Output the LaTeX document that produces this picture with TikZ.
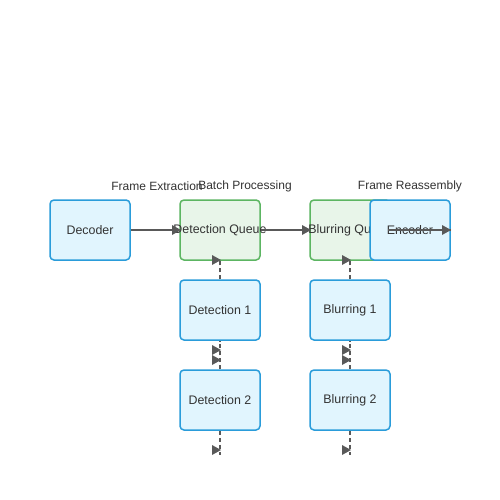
\documentclass[tikz,border=0pt]{standalone}
\usepackage{fontspec}
\setmainfont{Liberation Sans}
\definecolor{bluebd}{HTML}{2A9CDA}
\definecolor{bluefl}{HTML}{E1F5FE}
\definecolor{greenbd}{HTML}{5CB562}
\definecolor{greenfl}{HTML}{E8F5E9}
\definecolor{txt}{HTML}{333333}
\definecolor{ln}{HTML}{595959}
\newcommand{\fixw}[1]{\makebox[0pt][c]{#1}}
\begin{document}
\begin{tikzpicture}[x=1pt,y=-1pt,
  box/.style={draw, line width=1.5pt, rounded corners=4pt, minimum width=80pt, minimum height=60pt, inner sep=0pt, text=txt, font=\fontsize{12.4}{14}\selectfont},
  bluebox/.style={box, draw=bluebd, fill=bluefl},
  greenbox/.style={box, draw=greenbd, fill=greenfl},
  lbl/.style={text=txt, font=\fontsize{12}{14}\selectfont, inner sep=0pt},
  solidln/.style={draw=ln, line width=1.6pt},
  dashln/.style={draw=ln, line width=1.6pt, dash pattern=on 4pt off 3pt},
  mk/.style={fill=ln}
]
\useasboundingbox (0,0) rectangle (500,500);
\fill[white] (0,0) rectangle (500,500);
% labels
\node[lbl] (lfe) at (157,186) {Frame Extraction};
\node[lbl] (lbp) at (245,186) {Batch Processing};
\node[lbl] (lfr) at (410,186) {Frame Reassembly};
% nodes
\node[bluebox] (dec) at (90,230) {\fixw{\raisebox{-1pt}{Decoder}}};
\node[greenbox] (dq) at (220,230) {\fixw{\raisebox{-1pt}{Detection Queue}}};
\node[greenbox] (bq) at (350,230) {\fixw{\raisebox{-1pt}{Blurring Queue}}};
\node[bluebox] (enc) at (410,230) {\fixw{\raisebox{-1pt}{Encoder}}};
\node[bluebox] (d1) at (220,310) {\fixw{\raisebox{-1pt}{Detection 1}}};
\node[bluebox] (d2) at (220,400) {\fixw{\raisebox{-1pt}{Detection 2}}};
\node[bluebox] (b1) at (350,310) {\fixw{\raisebox{-1pt}{Blurring 1}}};
\node[bluebox] (b2) at (350,400) {\fixw{\raisebox{-1pt}{Blurring 2}}};
% free ends
\coordinate (d2end) at (220,455);
\coordinate (b2end) at (350,455);
\coordinate (encin) at (388,230);
% solid connectors
\draw[solidln] (dec.east) -- (dq.west);
\draw[solidln] (dq.east) -- (bq.west);
\draw[solidln] (encin) -- (enc.east);
% dashed connectors
\draw[dashln] (d1.north) -- (dq.south);
\draw[dashln] (d2.north) -- (d1.south);
\draw[dashln] (d2.south) -- (d2end);
\draw[dashln] (b1.north) -- (bq.south);
\draw[dashln] (b2.north) -- (b1.south);
\draw[dashln] (b2.south) -- (b2end);
% markers (right-pointing triangles)
\foreach \x/\y in {181/230, 311/230, 451/230,
                   221/260, 221/350, 221/360, 221/450,
                   351/260, 351/350, 351/360, 351/450}{
  \fill[mk] (\x,\y) -- ++(-9,-5) -- ++(0,10) -- cycle;
}
\end{tikzpicture}
\end{document}
